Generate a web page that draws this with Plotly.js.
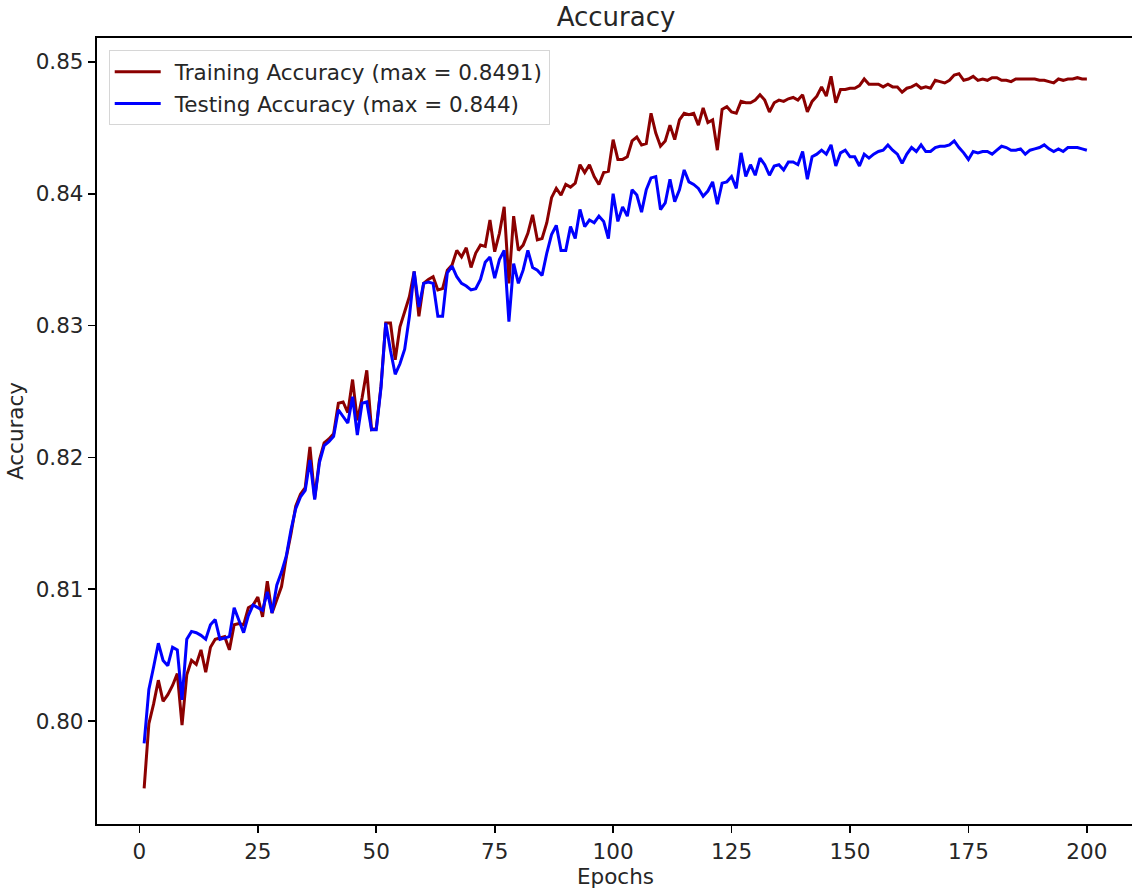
<!DOCTYPE html>
<html>
<head>
<meta charset="utf-8">
<script src="https://cdn.plot.ly/plotly-3.0.1.min.js"></script>
<style>
  html, body { margin: 0; padding: 0; background: #ffffff; overflow: hidden; }
  #chart { width: 1140px; height: 891px; }
</style>
</head>
<body>
<div id="chart"></div>
<script>
// Per-epoch accuracy recorded during training (epochs 1..200)
const epochs = Array.from({ length: 200 }, (_, i) => i + 1);

const trainAccuracy = [
  0.7949, 0.7998, 0.8013, 0.8031, 0.8015, 0.8020, 0.8027, 0.8036, 0.7997, 0.8035,
  0.8046, 0.8043, 0.8054, 0.8037, 0.8056, 0.8062, 0.8063, 0.8064, 0.8054, 0.8073,
  0.8074, 0.8073, 0.8086, 0.8088, 0.8094, 0.8079, 0.8106, 0.8082, 0.8092, 0.8102,
  0.8124, 0.8142, 0.8163, 0.8172, 0.8177, 0.8208, 0.8169, 0.8198, 0.8211, 0.8214,
  0.8218, 0.8241, 0.8242, 0.8234, 0.8259, 0.8228, 0.8245, 0.8266, 0.8221, 0.8222,
  0.8254, 0.8302, 0.8302, 0.8274, 0.8299, 0.8311, 0.8322, 0.8341, 0.8307, 0.8332,
  0.8335, 0.8337, 0.8327, 0.8328, 0.8342, 0.8346, 0.8357, 0.8352, 0.8359, 0.8344,
  0.8355, 0.8361, 0.8360, 0.8380, 0.8356, 0.8370, 0.8390, 0.8332, 0.8383, 0.8357,
  0.8361, 0.8370, 0.8384, 0.8365, 0.8366, 0.8378, 0.8397, 0.8404, 0.8399, 0.8407,
  0.8405, 0.8408, 0.8422, 0.8416, 0.8422, 0.8413, 0.8407, 0.8416, 0.8417, 0.8441,
  0.8426, 0.8426, 0.8428, 0.8440, 0.8443, 0.8437, 0.8438, 0.8461, 0.8446, 0.8436,
  0.8440, 0.8452, 0.8441, 0.8456, 0.8461, 0.8460, 0.8461, 0.8452, 0.8465, 0.8454,
  0.8456, 0.8433, 0.8464, 0.8466, 0.8462, 0.8461, 0.8470, 0.8469, 0.8469, 0.8471,
  0.8475, 0.8471, 0.8462, 0.8469, 0.8471, 0.8470, 0.8472, 0.8473, 0.8471, 0.8475,
  0.8462, 0.8470, 0.8474, 0.8481, 0.8474, 0.8489, 0.8469, 0.8479, 0.8479, 0.8480,
  0.8480, 0.8482, 0.8487, 0.8483, 0.8483, 0.8483, 0.8481, 0.8483, 0.8481, 0.8481,
  0.8477, 0.8480, 0.8481, 0.8483, 0.8480, 0.8481, 0.8480, 0.8486, 0.8485, 0.8484,
  0.8486, 0.8490, 0.8491, 0.8486, 0.8487, 0.8489, 0.8486, 0.8487, 0.8486, 0.8488,
  0.8488, 0.8486, 0.8486, 0.8485, 0.8487, 0.8487, 0.8487, 0.8487, 0.8487, 0.8486,
  0.8486, 0.8485, 0.8484, 0.8487, 0.8486, 0.8487, 0.8487, 0.8488, 0.8487, 0.8487
];

const testAccuracy = [
  0.7983, 0.8024, 0.8041, 0.8059, 0.8046, 0.8042, 0.8056, 0.8054, 0.8016, 0.8062,
  0.8068, 0.8067, 0.8065, 0.8062, 0.8073, 0.8077, 0.8062, 0.8063, 0.8064, 0.8086,
  0.8077, 0.8067, 0.8080, 0.8088, 0.8086, 0.8084, 0.8098, 0.8082, 0.8103, 0.8113,
  0.8125, 0.8145, 0.8161, 0.8170, 0.8175, 0.8198, 0.8168, 0.8196, 0.8209, 0.8212,
  0.8216, 0.8236, 0.8231, 0.8226, 0.8246, 0.8217, 0.8241, 0.8242, 0.8221, 0.8221,
  0.8253, 0.8302, 0.8281, 0.8263, 0.8271, 0.8282, 0.8307, 0.8341, 0.8314, 0.8332,
  0.8333, 0.8332, 0.8307, 0.8307, 0.8340, 0.8345, 0.8337, 0.8332, 0.8330, 0.8327,
  0.8328, 0.8335, 0.8348, 0.8352, 0.8336, 0.8350, 0.8357, 0.8303, 0.8347, 0.8332,
  0.8342, 0.8357, 0.8344, 0.8342, 0.8338, 0.8355, 0.8369, 0.8376, 0.8357, 0.8357,
  0.8375, 0.8366, 0.8388, 0.8375, 0.8380, 0.8378, 0.8383, 0.8379, 0.8366, 0.8400,
  0.8379, 0.8390, 0.8383, 0.8403, 0.8399, 0.8386, 0.8403, 0.8412, 0.8413, 0.8388,
  0.8393, 0.8411, 0.8394, 0.8403, 0.8418, 0.8409, 0.8407, 0.8404, 0.8398, 0.8402,
  0.8409, 0.8392, 0.8408, 0.8409, 0.8413, 0.8404, 0.8431, 0.8413, 0.8422, 0.8414,
  0.8427, 0.8422, 0.8414, 0.8421, 0.8422, 0.8418, 0.8424, 0.8424, 0.8422, 0.8432,
  0.8411, 0.8428, 0.8430, 0.8433, 0.8430, 0.8437, 0.8421, 0.8431, 0.8433, 0.8428,
  0.8428, 0.8421, 0.8430, 0.8427, 0.8430, 0.8432, 0.8433, 0.8437, 0.8433, 0.8430,
  0.8423, 0.8430, 0.8435, 0.8432, 0.8437, 0.8432, 0.8432, 0.8435, 0.8436, 0.8436,
  0.8437, 0.8440, 0.8435, 0.8431, 0.8426, 0.8432, 0.8431, 0.8432, 0.8432, 0.8430,
  0.8433, 0.8436, 0.8435, 0.8433, 0.8433, 0.8434, 0.8430, 0.8433, 0.8434, 0.8435,
  0.8437, 0.8434, 0.8432, 0.8434, 0.8432, 0.8435, 0.8435, 0.8435, 0.8434, 0.8433
];

const seriesNames = [
  'Training Accuracy (max = 0.8491)',
  'Testing Accuracy (max = 0.844)'
];
const xTickValues = [0, 25, 50, 75, 100, 125, 150, 175, 200];
const yTickValues = [0.80, 0.81, 0.82, 0.83, 0.84, 0.85];
const yTickLabels = ['0.80', '0.81', '0.82', '0.83', '0.84', '0.85'];

const FONT = 'DejaVu Sans, Liberation Sans, sans-serif';
const INK = '#262626';
const TEXT_SIZE = 21.5;

const traces = [
  {
    x: epochs, y: trainAccuracy, name: seriesNames[0], type: 'scatter', mode: 'lines',
    line: { color: '#8b0000', width: 3 }, legendgroup: 'a'
  },
  {
    x: epochs, y: testAccuracy, name: seriesNames[1], type: 'scatter', mode: 'lines',
    line: { color: '#0000ff', width: 3 }, legendgroup: 'b'
  }
];

// Pad both axes by 5% of the data span, like a default matplotlib figure
const xMin = epochs[0], xMax = epochs[epochs.length - 1];
const yAll = trainAccuracy.concat(testAccuracy);
const yMin = Math.min(...yAll), yMax = Math.max(...yAll);
const xPad = (xMax - xMin) * 0.05, yPad = (yMax - yMin) * 0.05;

const axisCommon = {
  showgrid: false, zeroline: false, showline: true, mirror: true,
  linecolor: '#000000', linewidth: 1.7,
  ticks: 'outside', ticklen: 7.5, tickwidth: 1.7, tickcolor: '#000000',
  tickfont: { family: FONT, size: TEXT_SIZE, color: INK }
};

const layout = {
  width: 1140, height: 891,
  margin: { l: 97, r: 6, t: 38, b: 67 },
  paper_bgcolor: '#ffffff', plot_bgcolor: '#ffffff',
  font: { family: FONT, color: INK },
  title: {
    text: 'Accuracy', font: { family: FONT, size: 26, color: INK },
    x: 616 / 1140, xanchor: 'center', y: 1 - 17 / 891, yanchor: 'middle'
  },
  xaxis: Object.assign({}, axisCommon, {
    range: [xMin - xPad, xMax + xPad],
    tickmode: 'array', tickvals: xTickValues,
    title: { text: 'Epochs', font: { family: FONT, size: TEXT_SIZE, color: INK }, standoff: 6 }
  }),
  yaxis: Object.assign({}, axisCommon, {
    range: [yMin - yPad, yMax + yPad],
    tickmode: 'array', tickvals: yTickValues, ticktext: yTickLabels,
    title: { text: 'Accuracy', font: { family: FONT, size: TEXT_SIZE, color: INK }, standoff: 6 }
  }),
  showlegend: true,
  legend: {
    x: 0.0113, y: 0.9845, xanchor: 'left', yanchor: 'top',
    bgcolor: 'rgba(255,255,255,0.8)', bordercolor: '#d6d6d6', borderwidth: 1,
    font: { family: FONT, size: TEXT_SIZE, color: INK },
    tracegroupgap: 1, itemwidth: 55
  }
};

Plotly.newPlot('chart', traces, layout, { displayModeBar: false, staticPlot: true })
  .then(function (gd) {
    // Longer legend line samples, with the label a short gap after them
    gd.querySelectorAll('.legend .legendlines path').forEach(function (p) {
      p.setAttribute('d', 'M5,0h46');
    });
  });
</script>
</body>
</html>
